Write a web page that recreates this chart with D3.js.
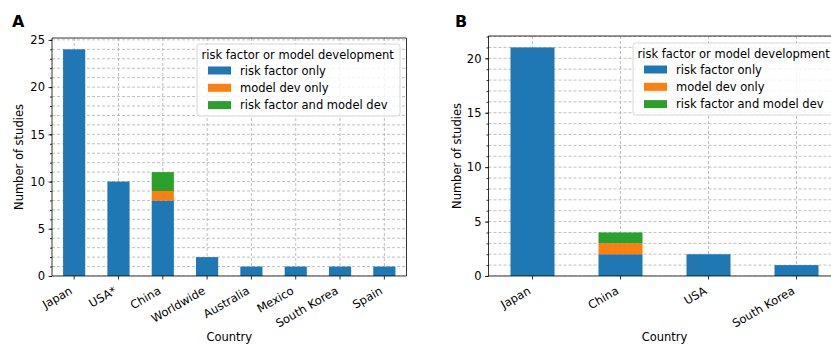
<!DOCTYPE html>
<html>
<head>
<meta charset="utf-8">
<script src="https://cdn.jsdelivr.net/npm/d3@7"></script>
<style>
  body { margin: 0; background: #fff; }
  svg { font-family: "DejaVu Sans", sans-serif; }
  .grid line { stroke: #b0b0b0; stroke-width: 0.8; stroke-dasharray: 3,2; }
  .axis path, .axis line { stroke: #000; stroke-width: 0.8; }
  .axis text { font-family: "DejaVu Sans", sans-serif; font-size: 11.5px; fill: #000; }
</style>
</head>
<body>
<svg id="chart" width="831" height="344"></svg>
<script>
var seriesNames = ['risk factor only', 'model dev only', 'risk factor and model dev'];
var colors = ['#1f77b4', '#ff7f0e', '#2ca02c'];

// panel A
var countriesA = ['Japan', 'USA*', 'China', 'Worldwide', 'Australia', 'Mexico', 'South Korea', 'Spain'];
var riskOnlyA = [24, 10, 8, 2, 1, 1, 1, 1];
var modelOnlyA = [0, 0, 1, 0, 0, 0, 0, 0];
var bothA = [0, 0, 2, 0, 0, 0, 0, 0];

// panel B
var countriesB = ['Japan', 'China', 'USA', 'South Korea'];
var riskOnlyB = [21, 2, 2, 1];
var modelOnlyB = [0, 1, 0, 0];
var bothB = [0, 1, 0, 0];

var fs = 11.5;
var svg = d3.select('#chart');

function panel(cfg) {
  var countries = cfg.countries,
      series = [cfg.risk, cfg.model, cfg.both];

  var totals = countries.map(function(c, i) { return series[0][i] + series[1][i] + series[2][i]; });
  var ymax = d3.max(totals) * 1.05;

  var x = d3.scaleBand().domain(countries).range([cfg.left, cfg.right]).paddingInner(0.5).paddingOuter(0.25);
  var y = d3.scaleLinear().domain([0, ymax]).range([cfg.bottom, cfg.top]);

  var g = svg.append('g');

  g.append('defs').append('clipPath').attr('id', 'clip' + cfg.id)
   .append('rect').attr('x', cfg.left).attr('y', cfg.top)
   .attr('width', cfg.right - cfg.left).attr('height', cfg.bottom - cfg.top);

  // grid (major + minor on y, category lines on x)
  var grid = g.append('g').attr('class', 'grid').attr('clip-path', 'url(#clip' + cfg.id + ')');
  grid.selectAll('.hy')
      .data(d3.range(0, Math.floor(ymax) + 1))
      .enter().append('line')
      .attr('x1', cfg.left).attr('x2', cfg.right)
      .attr('y1', function(d) { return y(d); }).attr('y2', function(d) { return y(d); });
  grid.selectAll('.vx')
      .data(countries)
      .enter().append('line')
      .attr('x1', function(d) { return x(d) + x.bandwidth() / 2; })
      .attr('x2', function(d) { return x(d) + x.bandwidth() / 2; })
      .attr('y1', cfg.top).attr('y2', cfg.bottom);

  // stacked bars
  var stack = d3.stack().keys([0, 1, 2]).value(function(d, k) { return series[k][d]; });
  var layers = stack(d3.range(countries.length));
  g.append('g').attr('clip-path', 'url(#clip' + cfg.id + ')')
   .selectAll('g')
   .data(layers)
   .enter().append('g')
   .attr('fill', function(d, i) { return colors[i]; })
   .selectAll('rect')
   .data(function(d) { return d; })
   .enter().append('rect')
   .attr('x', function(d, i) { return x(countries[i]); })
   .attr('width', x.bandwidth())
   .attr('y', function(d) { return y(d[1]); })
   .attr('height', function(d) { return y(d[0]) - y(d[1]); });

  // y axis with minor ticks
  g.append('g').attr('class', 'axis')
   .attr('transform', 'translate(' + cfg.left + ',0)')
   .call(d3.axisLeft(y).tickValues(d3.range(0, ymax, 1)).tickSize(2).tickFormat(''))
   .select('.domain').remove();
  g.append('g').attr('class', 'axis')
   .attr('transform', 'translate(' + cfg.left + ',0)')
   .call(d3.axisLeft(y).tickValues(d3.range(0, ymax, 5)).tickSize(3.5).tickPadding(3.5).tickFormat(d3.format('d')))
   .select('.domain').remove();

  // x axis
  var xa = g.append('g').attr('class', 'axis')
   .attr('transform', 'translate(0,' + cfg.bottom + ')')
   .call(d3.axisBottom(x).tickSize(3.5).tickSizeOuter(0));
  xa.select('.domain').remove();
  xa.selectAll('text')
    .attr('text-anchor', 'end')
    .attr('dy', null)
    .attr('y', 0)
    .attr('transform', 'translate(-1,17) rotate(-30)');

  // frame
  var frame = g.append('g').attr('fill', 'none').attr('stroke', '#000').attr('stroke-width', 0.8);
  frame.append('line').attr('x1', cfg.left).attr('x2', cfg.left).attr('y1', cfg.top).attr('y2', cfg.bottom);
  frame.append('line').attr('x1', cfg.left).attr('x2', cfg.right).attr('y1', cfg.bottom).attr('y2', cfg.bottom);
  frame.append('line').attr('x1', cfg.left).attr('x2', cfg.right).attr('y1', cfg.top).attr('y2', cfg.top);
  frame.append('line').attr('x1', cfg.right).attr('x2', cfg.right).attr('y1', cfg.top).attr('y2', cfg.bottom);

  // axis titles
  g.append('text')
   .attr('x', (cfg.left + cfg.right) / 2).attr('y', 341)
   .attr('text-anchor', 'middle').attr('font-size', fs)
   .text('Country');
  g.append('text')
   .attr('transform', 'translate(' + cfg.ylabX + ',' + (cfg.top + cfg.bottom) / 2 + ') rotate(-90)')
   .attr('text-anchor', 'middle').attr('font-size', fs)
   .text('Number of studies');

  // panel letter
  g.append('text')
   .attr('x', cfg.letterX).attr('y', 27)
   .attr('font-size', 16).attr('font-weight', 'bold')
   .text(cfg.id);

  // legend
  var lg = g.append('g').attr('transform', 'translate(' + cfg.legX + ',' + cfg.legY + ')');
  lg.append('rect')
    .attr('width', 203).attr('height', 72).attr('rx', 2.5)
    .attr('fill', '#fff').attr('fill-opacity', 0.8)
    .attr('stroke', '#cccccc').attr('stroke-width', 0.8);
  lg.append('text').attr('x', 4.5).attr('y', 14.5).attr('font-size', fs)
    .text('risk factor or model development');
  var item = lg.selectAll('.item')
    .data(seriesNames)
    .enter().append('g')
    .attr('transform', function(d, i) { return 'translate(11,' + (26.5 + i * 17.3) + ')'; });
  item.append('rect').attr('x', 0).attr('y', -4).attr('width', 23).attr('height', 8)
      .attr('fill', function(d, i) { return colors[i]; });
  item.append('text').attr('x', 32).attr('y', 4).attr('font-size', fs)
      .text(function(d) { return d; });
}

panel({ id: 'A', countries: countriesA, risk: riskOnlyA, model: modelOnlyA, both: bothA,
        left: 52, right: 406.5, top: 38, bottom: 276, ylabX: 23, letterX: 12,
        legX: 197, legY: 44 });
panel({ id: 'B', countries: countriesB, risk: riskOnlyB, model: modelOnlyB, both: bothB,
        left: 488.5, right: 840.5, top: 36, bottom: 276, ylabX: 460.5, letterX: 455,
        legX: 633, legY: 43 });
</script>
</body>
</html>
